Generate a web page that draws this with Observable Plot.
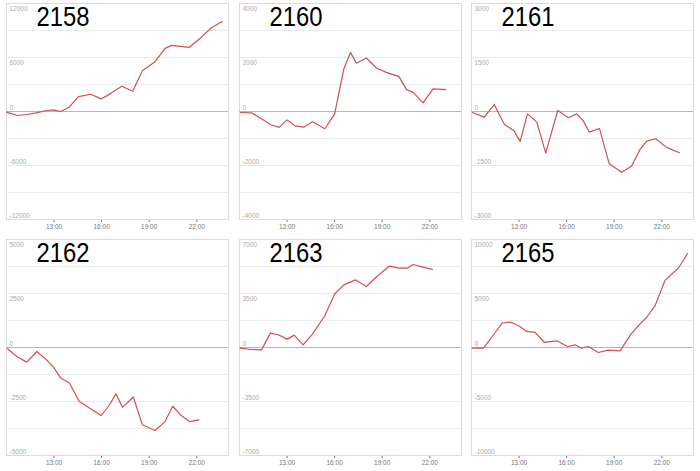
<!DOCTYPE html>
<html>
<head>
<meta charset="utf-8">
<script src="https://cdn.jsdelivr.net/npm/d3@7"></script>
<script src="https://cdn.jsdelivr.net/npm/@observablehq/plot@0.6"></script>
<style>
  html, body { margin: 0; padding: 0; background: #fff; }
  #wrap { position: relative; width: 700px; height: 471px; overflow: hidden; }
  #wrap > svg { position: absolute; overflow: visible; }
</style>
</head>
<body>
<div id="wrap"></div>
<script>
// ---- data (hours of day, values) ----
const names = ["2158", "2160", "2161", "2162", "2163", "2165"];
const yMax = [12000, 4000, 3000, 5000, 7000, 10000];
const yLabels = [
  [-12000, -6000, 0, 6000, 12000],
  [-4000, -2000, 0, 2000, 4000],
  [-3000, -1500, 0, 1500, 3000],
  [-5000, -2500, 0, 2500, 5000],
  [-7000, -3500, 0, 3500, 7000],
  [-10000, -5000, 0, 5000, 10000]
];
const xTicks = [13, 16, 19, 22];

const t2158 = [10.0, 10.69, 11.28, 11.87, 12.54, 12.96, 13.42, 13.95, 14.54, 15.31, 15.97, 16.53, 17.27, 17.96, 18.57, 19.37, 20.0, 20.42, 21.51, 22.2, 22.94, 23.61];
const v2158 = [-74, -443, -332, -150, 110, 185, 0, 480, 1660, 1920, 1400, 1960, 2800, 2250, 4540, 5540, 7010, 7350, 7120, 8120, 9340, 10000];

const t2160 = [10.06, 10.76, 11.39, 11.97, 12.5, 13.0, 13.49, 14.05, 14.6, 15.38, 16.0, 16.58, 17.0, 17.37, 18.0, 18.63, 19.26, 20.06, 20.53, 20.95, 21.58, 22.2, 23.0];
const v2160 = [-37, -49, -270, -490, -590, -310, -530, -580, -380, -640, -86, 1575, 2190, 1785, 1980, 1610, 1450, 1290, 810, 710, 320, 840, 810];

const t2161 = [10.06, 10.8, 11.43, 12.08, 12.65, 13.07, 13.53, 14.12, 14.68, 15.44, 16.11, 16.64, 17.06, 17.42, 18.07, 18.68, 19.47, 20.1, 20.63, 21.05, 21.62, 22.31, 23.11];
const v2161 = [-28, -157, 194, -360, -526, -830, -65, -295, -1154, 28, -175, -65, -268, -572, -471, -1450, -1690, -1514, -1052, -821, -757, -997, -1145];

const t2162 = [10.06, 10.65, 11.28, 11.91, 12.48, 12.96, 13.42, 13.97, 14.58, 15.23, 15.97, 16.43, 16.91, 17.31, 18.0, 18.57, 19.37, 20.0, 20.48, 20.95, 21.53, 22.14];
const v2162 = [-62, -415, -677, -185, -538, -907, -1415, -1646, -2490, -2800, -3150, -2720, -2150, -2770, -2290, -3580, -3845, -3430, -2720, -3100, -3430, -3350];

const t2163 = [10.06, 10.76, 11.39, 11.95, 12.44, 13.0, 13.45, 14.01, 14.6, 15.38, 16.0, 16.58, 17.33, 18.0, 18.68, 19.43, 20.04, 20.57, 20.95, 21.58, 22.16];
const v2163 = [-43, -130, -152, 933, 825, 543, 803, 174, 868, 2060, 3470, 4060, 4380, 3950, 4620, 5270, 5140, 5140, 5380, 5210, 5060];

const t2165 = [10.06, 10.76, 11.39, 11.95, 12.44, 12.96, 13.49, 14.01, 14.6, 15.38, 16.05, 16.53, 16.95, 17.37, 18.0, 18.63, 19.37, 20.06, 20.53, 21.05, 21.58, 22.2, 23.05, 23.63];
const v2165 = [-62, -62, 1180, 2270, 2360, 2020, 1490, 1400, 466, 621, 93, 248, -62, 93, -466, -248, -310, 1240, 2020, 2800, 3880, 6210, 7360, 8700];

const times = [t2158, t2160, t2161, t2162, t2163, t2165];
const values = [v2158, v2160, v2161, v2162, v2163, v2165];

// ---- layout ----
const colLeft = [0, 233, 465];
const rowTop = [0, 236];
const wrap = document.getElementById("wrap");

names.forEach((name, i) => {
  const M = yMax[i];
  const series = times[i].map((t, j) => ({t, v: values[i][j]}));
  const grid = d3.range(-4, 5).map(k => k * M / 4);
  const labs = yLabels[i];
  const chart = Plot.plot({
    width: 233,
    height: 236,
    marginLeft: 6,
    marginRight: 5,
    marginTop: 3,
    marginBottom: 17,
    style: {fontFamily: "'Liberation Sans', Arial, sans-serif", fontSize: "6.5px", color: "#777", background: "transparent", overflow: "visible"},
    x: {domain: [10, 24], ticks: xTicks, tickFormat: d => `${d}:00`, label: null, tickSize: 3, tickPadding: 2},
    y: {domain: [-M, M], axis: null},
    marks: [
      Plot.ruleY(grid, {stroke: "#ebebeb", strokeWidth: 1}),
      Plot.frame({stroke: "#dcdcdc", strokeWidth: 1}),
      Plot.ruleY([0], {stroke: "#b8b8b8", strokeWidth: 1}),
      Plot.text(labs.filter(d => d > 0), {y: d => d, text: d => String(d), frameAnchor: "left", textAnchor: "start", lineAnchor: "top", dx: 3, dy: 3, fill: "#aaa", fontSize: 6.5}),
      Plot.text(labs.filter(d => d <= 0), {y: d => d, text: d => String(d), frameAnchor: "left", textAnchor: "start", lineAnchor: "bottom", dx: 3, dy: -2, fill: "#aaa", fontSize: 6.5}),
      Plot.line(series, {x: "t", y: "v", stroke: "#d24f4f", strokeWidth: 1.2}),
      Plot.text([name], {text: d => d, frameAnchor: "top-left", textAnchor: "start", lineAnchor: "top", dx: 30, dy: 3, fill: "#000", fontSize: 28, fontFamily: "'Liberation Sans', Arial, sans-serif"})
    ]
  });
  // compress the big panel label horizontally to match the narrow face
  d3.select(chart).selectAll("text")
    .filter(function() { return this.textContent === name; })
    .attr("textLength", 53)
    .attr("lengthAdjust", "spacingAndGlyphs");
  chart.style.left = colLeft[i % 3] + "px";
  chart.style.top = rowTop[Math.floor(i / 3)] + "px";
  wrap.appendChild(chart);
});
</script>
</body>
</html>
